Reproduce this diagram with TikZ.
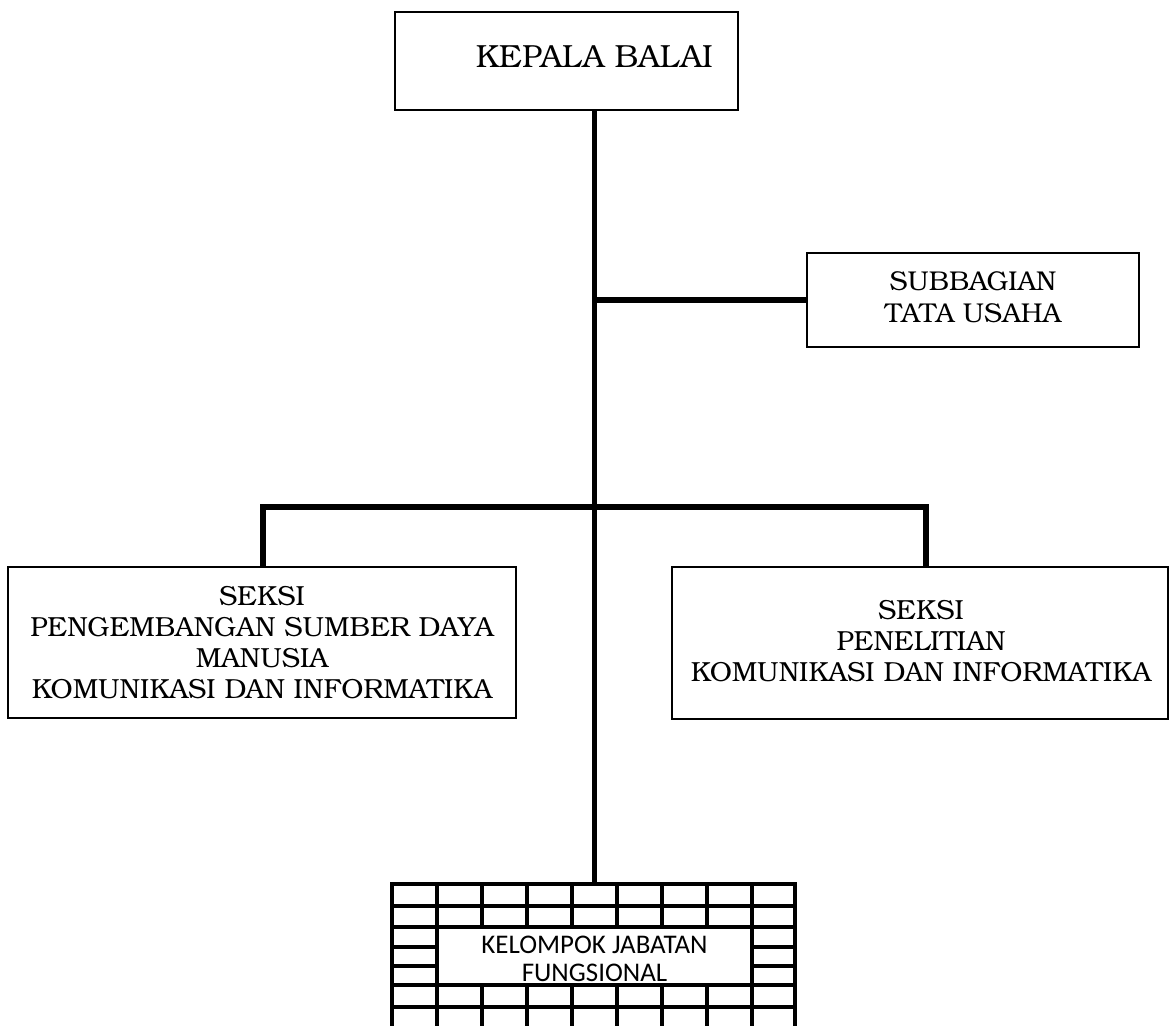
\documentclass[tikz,border=0pt]{standalone}
\usepackage{fontspec}
\newfontfamily\bookman{TeX Gyre Bonum}
\newfontfamily\calib{Carlito}
\tikzset{
  orgbox/.style={draw=black, line width=1.5pt, rectangle, align=center, inner sep=0pt,
    font=\bookman\fontsize{20.7pt}{23.4pt}\selectfont},
  orgtext/.style={align=center, inner sep=0pt},
  conn/.style={line width=3.9pt},
  gridline/.style={line width=2.3pt, line cap=rect},
}
\begin{document}
\begin{tikzpicture}[x=0.75pt,y=-0.75pt]
\useasboundingbox[fill=white] (0,0) rectangle (1171,1025);

\node[orgbox, minimum width=257.25pt, minimum height=73.5pt] (kepala) at (566.5,61) {};
\node[orgtext, font=\bookman\fontsize{24pt}{28pt}\selectfont] (kepalat) at (594.5,57) {KEPALA BALAI};
\node[orgbox, minimum width=249pt, minimum height=70.5pt] (sub) at (973,300) {};
\node[orgtext, font=\bookman\fontsize{20.4pt}{24pt}\selectfont] (subt) at (973,297) {SUBBAGIAN\\TATA USAHA};
\node[orgbox, minimum width=381pt, minimum height=113.25pt] (left) at (262,642.5)
  {SEKSI\\PENGEMBANGAN SUMBER DAYA\\MANUSIA\\KOMUNIKASI DAN INFORMATIKA};
\node[orgbox, minimum width=372pt, minimum height=114pt] (right) at (920,643) {};
\node[orgtext, font=\bookman\fontsize{20.7pt}{23.4pt}\selectfont] (rightt) at (921,641)
  {SEKSI\\PENELITIAN\\KOMUNIKASI DAN INFORMATIKA};

% brick pattern area
\node[minimum width=302.25pt, minimum height=105.75pt, inner sep=0pt] (brick) at (593.5,954.5) {};
\foreach \y in {884,906,927,985,1007}
  \draw[gridline] (392,\y) -- (795,\y);
\foreach \y in {947,966} {
  \draw[gridline] (392,\y) -- (437,\y);
  \draw[gridline] (752,\y) -- (795,\y);
}
\foreach \x in {392,437,752,795}
  \draw[gridline] (\x,884) -- (\x,1025);
\foreach \x in {482,527,572,617,662,707} {
  \draw[gridline] (\x,884) -- (\x,927);
  \draw[gridline] (\x,985) -- (\x,1025);
}
\node[align=center, inner sep=0pt, font=\calib\fontsize{20.2pt}{21pt}\selectfont] (kjf) at (594.5,959)
  {KELOMPOK JABATAN\\FUNGSIONAL};

% connectors
\coordinate (tx) at (594.5,0);
\coordinate (lx) at (263,0);
\coordinate (rx) at (926,0);
\coordinate (bar) at (0,507);
\coordinate (tj) at (tx |- sub.west);
\coordinate (tb) at (tx |- bar);
\draw[conn] (kepala.south -| tx) -- (brick.north -| tx);
\draw[conn] (tj) -- (sub.west);
\draw[conn] (tb) -| (left.north -| lx);
\draw[conn] (tb) -| (right.north -| rx);
\end{tikzpicture}
\end{document}
